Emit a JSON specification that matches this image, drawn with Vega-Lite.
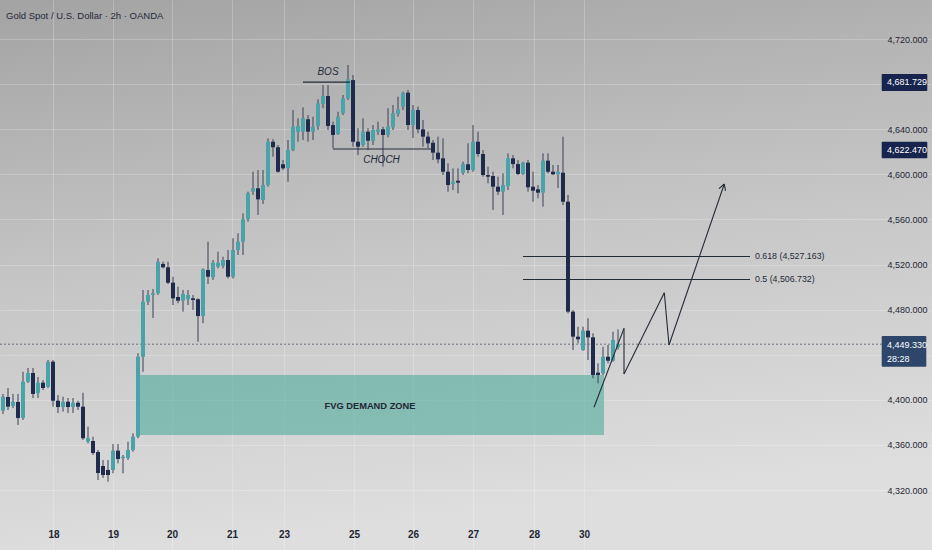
{
  "$schema": "https://vega.github.io/schema/vega-lite/v6.json",
  "width": 932,
  "height": 550,
  "autosize": {"type": "none"},
  "padding": 0,
  "background": "#c4c4c4",
  "config": {
    "view": {"stroke": null, "fill": {"gradient": "linear", "x1": 0, "y1": 0, "x2": 0.2, "y2": 1, "stops": [{"offset": 0, "color": "#a3a3a3"}, {"offset": 0.5, "color": "#c5c5c5"}, {"offset": 1, "color": "#dedede"}]}},
    "font": "Liberation Sans, Arial, sans-serif"
  },
  "datasets": {
    "candles": [
      {"i":0,"o":4390.4,"h":4405.2,"l":4387.4,"c":4402.8},
      {"i":1,"o":4402.5,"h":4410.5,"l":4391.0,"c":4393.9},
      {"i":2,"o":4394.5,"h":4405.2,"l":4392.7,"c":4398.3},
      {"i":3,"o":4398.1,"h":4405.2,"l":4377.7,"c":4383.9},
      {"i":4,"o":4383.9,"h":4424.9,"l":4382.1,"c":4416.1},
      {"i":5,"o":4416.1,"h":4428.2,"l":4414.9,"c":4423.8},
      {"i":6,"o":4423.8,"h":4428.2,"l":4401.6,"c":4405.2},
      {"i":7,"o":4406.0,"h":4420.2,"l":4401.6,"c":4415.2},
      {"i":8,"o":4415.2,"h":4417.6,"l":4408.7,"c":4410.5},
      {"i":9,"o":4411.6,"h":4435.3,"l":4410.5,"c":4433.8},
      {"i":10,"o":4433.8,"h":4435.3,"l":4393.9,"c":4399.2},
      {"i":11,"o":4399.2,"h":4404.3,"l":4388.3,"c":4393.6},
      {"i":12,"o":4393.6,"h":4402.8,"l":4389.5,"c":4398.3},
      {"i":13,"o":4398.3,"h":4401.6,"l":4388.3,"c":4393.6},
      {"i":14,"o":4393.6,"h":4401.6,"l":4388.3,"c":4397.4},
      {"i":15,"o":4397.4,"h":4399.2,"l":4391.0,"c":4393.9},
      {"i":16,"o":4393.9,"h":4406.3,"l":4364.4,"c":4365.9},
      {"i":17,"o":4362.9,"h":4376.2,"l":4361.4,"c":4366.1},
      {"i":18,"o":4363.5,"h":4367.3,"l":4351.1,"c":4352.8},
      {"i":19,"o":4353.7,"h":4355.5,"l":4328.9,"c":4335.1},
      {"i":20,"o":4341.3,"h":4346.6,"l":4330.7,"c":4333.3},
      {"i":21,"o":4337.8,"h":4346.6,"l":4327.4,"c":4333.3},
      {"i":22,"o":4337.8,"h":4360.8,"l":4334.8,"c":4354.9},
      {"i":23,"o":4354.9,"h":4360.8,"l":4343.7,"c":4347.5},
      {"i":24,"o":4348.1,"h":4351.1,"l":4334.8,"c":4349.6},
      {"i":25,"o":4348.4,"h":4362.9,"l":4346.6,"c":4355.5},
      {"i":26,"o":4355.5,"h":4370.3,"l":4354.0,"c":4367.3},
      {"i":27,"o":4367.3,"h":4441.3,"l":4365.9,"c":4438.2},
      {"i":28,"o":4438.2,"h":4497.4,"l":4424.9,"c":4487.0},
      {"i":29,"o":4487.0,"h":4497.4,"l":4484.1,"c":4493.0},
      {"i":30,"o":4493.0,"h":4498.3,"l":4472.6,"c":4494.5},
      {"i":31,"o":4494.5,"h":4525.5,"l":4493.0,"c":4522.5},
      {"i":32,"o":4520.5,"h":4522.5,"l":4516.6,"c":4517.5},
      {"i":33,"o":4517.5,"h":4522.5,"l":4502.7,"c":4503.9},
      {"i":34,"o":4503.9,"h":4509.2,"l":4484.1,"c":4490.0},
      {"i":35,"o":4491.2,"h":4500.3,"l":4485.6,"c":4487.9},
      {"i":36,"o":4487.9,"h":4497.4,"l":4478.2,"c":4493.9},
      {"i":37,"o":4489.2,"h":4497.4,"l":4484.1,"c":4493.0},
      {"i":38,"o":4490.0,"h":4493.0,"l":4479.7,"c":4488.5},
      {"i":39,"o":4489.2,"h":4490.0,"l":4451.5,"c":4474.3},
      {"i":40,"o":4474.3,"h":4516.6,"l":4467.9,"c":4515.8},
      {"i":41,"o":4515.1,"h":4540.2,"l":4502.7,"c":4509.2},
      {"i":42,"o":4508.7,"h":4524.0,"l":4506.3,"c":4521.6},
      {"i":43,"o":4518.1,"h":4531.4,"l":4516.6,"c":4521.6},
      {"i":44,"o":4518.7,"h":4526.9,"l":4516.6,"c":4524.0},
      {"i":45,"o":4524.0,"h":4532.9,"l":4507.5,"c":4509.2},
      {"i":46,"o":4509.2,"h":4543.3,"l":4507.5,"c":4532.9},
      {"i":47,"o":4532.9,"h":4547.7,"l":4528.4,"c":4540.2},
      {"i":48,"o":4540.2,"h":4565.4,"l":4528.4,"c":4560.1},
      {"i":49,"o":4560.1,"h":4584.6,"l":4558.0,"c":4583.2},
      {"i":50,"o":4584.6,"h":4602.3,"l":4581.7,"c":4587.6},
      {"i":51,"o":4587.6,"h":4603.8,"l":4563.9,"c":4577.8},
      {"i":52,"o":4577.2,"h":4603.8,"l":4573.7,"c":4590.5},
      {"i":53,"o":4590.5,"h":4631.9,"l":4589.0,"c":4628.9},
      {"i":54,"o":4628.9,"h":4631.1,"l":4615.6,"c":4624.0},
      {"i":55,"o":4624.0,"h":4626.0,"l":4601.4,"c":4602.3},
      {"i":56,"o":4608.9,"h":4612.7,"l":4603.8,"c":4605.3},
      {"i":57,"o":4605.3,"h":4630.4,"l":4593.4,"c":4621.6},
      {"i":58,"o":4621.6,"h":4657.0,"l":4620.5,"c":4642.2},
      {"i":59,"o":4637.8,"h":4649.7,"l":4628.9,"c":4642.9},
      {"i":60,"o":4637.8,"h":4659.4,"l":4630.4,"c":4649.7},
      {"i":61,"o":4648.8,"h":4652.6,"l":4628.9,"c":4637.8},
      {"i":62,"o":4637.8,"h":4651.1,"l":4630.4,"c":4642.2},
      {"i":63,"o":4642.9,"h":4666.5,"l":4639.3,"c":4663.0},
      {"i":64,"o":4662.4,"h":4679.2,"l":4658.6,"c":4669.5},
      {"i":65,"o":4669.5,"h":4679.2,"l":4639.3,"c":4642.9},
      {"i":66,"o":4643.7,"h":4646.7,"l":4623.1,"c":4634.9},
      {"i":67,"o":4635.8,"h":4655.5,"l":4634.9,"c":4651.1},
      {"i":68,"o":4654.1,"h":4670.3,"l":4652.6,"c":4667.4},
      {"i":69,"o":4667.4,"h":4697.0,"l":4665.9,"c":4684.3},
      {"i":70,"o":4683.6,"h":4688.1,"l":4624.5,"c":4628.9},
      {"i":71,"o":4628.9,"h":4640.8,"l":4617.1,"c":4624.5},
      {"i":72,"o":4626.0,"h":4649.7,"l":4624.5,"c":4637.8},
      {"i":73,"o":4637.8,"h":4640.8,"l":4621.6,"c":4629.8},
      {"i":74,"o":4629.8,"h":4643.7,"l":4626.0,"c":4639.3},
      {"i":75,"o":4637.8,"h":4646.7,"l":4634.9,"c":4639.9},
      {"i":76,"o":4639.9,"h":4642.2,"l":4606.8,"c":4634.9},
      {"i":77,"o":4634.9,"h":4658.6,"l":4632.8,"c":4642.2},
      {"i":78,"o":4641.7,"h":4661.5,"l":4639.3,"c":4654.1},
      {"i":79,"o":4653.5,"h":4668.8,"l":4651.1,"c":4657.7},
      {"i":80,"o":4660.0,"h":4673.3,"l":4657.0,"c":4672.4},
      {"i":81,"o":4672.4,"h":4674.8,"l":4639.3,"c":4643.7},
      {"i":82,"o":4643.7,"h":4661.5,"l":4632.2,"c":4657.0},
      {"i":83,"o":4657.0,"h":4660.0,"l":4636.4,"c":4639.9},
      {"i":84,"o":4639.9,"h":4648.2,"l":4624.5,"c":4633.4},
      {"i":85,"o":4633.4,"h":4637.8,"l":4623.1,"c":4627.5},
      {"i":86,"o":4628.0,"h":4630.4,"l":4612.7,"c":4619.2},
      {"i":87,"o":4619.2,"h":4633.4,"l":4609.8,"c":4613.3},
      {"i":88,"o":4614.2,"h":4631.9,"l":4599.4,"c":4602.3},
      {"i":89,"o":4602.3,"h":4609.8,"l":4584.6,"c":4590.5},
      {"i":90,"o":4591.4,"h":4605.3,"l":4586.1,"c":4593.4},
      {"i":91,"o":4594.3,"h":4605.3,"l":4583.2,"c":4592.6},
      {"i":92,"o":4601.4,"h":4611.2,"l":4599.4,"c":4609.1},
      {"i":93,"o":4608.9,"h":4627.5,"l":4600.9,"c":4603.8},
      {"i":94,"o":4603.8,"h":4643.7,"l":4602.3,"c":4628.9},
      {"i":95,"o":4628.9,"h":4637.8,"l":4615.6,"c":4618.0},
      {"i":96,"o":4618.0,"h":4621.6,"l":4597.9,"c":4599.4},
      {"i":97,"o":4599.4,"h":4606.8,"l":4592.0,"c":4597.9},
      {"i":98,"o":4598.5,"h":4602.3,"l":4568.4,"c":4589.0},
      {"i":99,"o":4589.0,"h":4597.9,"l":4581.7,"c":4584.6},
      {"i":100,"o":4584.6,"h":4600.9,"l":4563.9,"c":4590.5},
      {"i":101,"o":4589.6,"h":4618.6,"l":4586.1,"c":4614.2},
      {"i":102,"o":4614.2,"h":4617.1,"l":4605.3,"c":4609.1},
      {"i":103,"o":4609.1,"h":4612.7,"l":4599.4,"c":4600.3},
      {"i":104,"o":4600.3,"h":4611.2,"l":4599.4,"c":4610.3},
      {"i":105,"o":4610.3,"h":4612.7,"l":4584.6,"c":4588.5},
      {"i":106,"o":4589.0,"h":4602.3,"l":4575.7,"c":4585.5},
      {"i":107,"o":4586.7,"h":4590.5,"l":4578.7,"c":4583.7},
      {"i":108,"o":4583.7,"h":4618.6,"l":4571.3,"c":4612.1},
      {"i":109,"o":4612.1,"h":4618.6,"l":4600.9,"c":4602.3},
      {"i":110,"o":4602.3,"h":4608.3,"l":4599.4,"c":4600.0},
      {"i":111,"o":4600.0,"h":4608.3,"l":4587.9,"c":4602.3},
      {"i":112,"o":4601.4,"h":4633.4,"l":4572.8,"c":4575.7},
      {"i":113,"o":4575.7,"h":4581.7,"l":4476.7,"c":4478.2},
      {"i":114,"o":4478.2,"h":4479.7,"l":4444.2,"c":4456.0},
      {"i":115,"o":4456.0,"h":4464.8,"l":4450.1,"c":4453.7},
      {"i":116,"o":4444.2,"h":4464.8,"l":4443.5,"c":4461.3},
      {"i":117,"o":4461.3,"h":4472.3,"l":4435.3,"c":4455.4},
      {"i":118,"o":4455.4,"h":4459.0,"l":4419.1,"c":4422.0},
      {"i":119,"o":4424.1,"h":4432.4,"l":4414.6,"c":4422.0},
      {"i":120,"o":4423.5,"h":4447.1,"l":4422.0,"c":4438.2},
      {"i":121,"o":4438.2,"h":4448.6,"l":4432.4,"c":4434.7},
      {"i":122,"o":4434.7,"h":4460.4,"l":4433.8,"c":4453.1},
      {"i":123,"o":4446.5,"h":4462.5,"l":4444.5,"c":4449.33}
    ],
    "zone": [{"x1": 27, "x2": 120.2, "y1": 4368.8, "y2": 4422.0}],
    "segments": [
      {"x1": 60, "y1": 4681.729, "x2": 69.4, "y2": 4681.729},
      {"x1": 66, "y1": 4622.47, "x2": 85.8, "y2": 4622.47},
      {"x1": 104, "y1": 4527.163, "x2": 149.4, "y2": 4527.163},
      {"x1": 104, "y1": 4506.732, "x2": 149.4, "y2": 4506.732},
      {"x1": 118.2, "y1": 4393.4, "x2": 124.2, "y2": 4463.4},
      {"x1": 124.2, "y1": 4463.4, "x2": 124.2, "y2": 4422.9},
      {"x1": 124.2, "y1": 4422.9, "x2": 132.26, "y2": 4495.0},
      {"x1": 132.26, "y1": 4495.0, "x2": 133.2, "y2": 4448.6},
      {"x1": 133.2, "y1": 4448.6, "x2": 144.26, "y2": 4591.4},
      {"x1": 144.26, "y1": 4591.4, "x2": 143.2, "y2": 4587.3},
      {"x1": 144.26, "y1": 4591.4, "x2": 144.5, "y2": 4585.3}
    ],
    "notes": [
      {"x": 65, "y": 4690.7, "t": "BOS"},
      {"x": 75.7, "y": 4612.7, "t": "CHOCH"}
    ],
    "fibtext": [
      {"x": 150.4, "y": 4527.163, "t": "0.618 (4,527.163)"},
      {"x": 150.4, "y": 4506.732, "t": "0.5 (4,506.732)"}
    ],
    "zonetext": [{"x": 73.4, "y": 4394.5, "t": "FVG DEMAND ZONE"}],
    "title": [{"x": 0.6, "y": 4740.7, "t": "Gold Spot / U.S. Dollar · 2h · OANDA"}],
    "navyboxes": [
      {"x1": 175.74, "x2": 184.86, "y1": 4689.0, "y2": 4673.9},
      {"x1": 175.74, "x2": 184.86, "y1": 4628.9, "y2": 4614.2}
    ],
    "lastbox": [{"x1": 175.74, "x2": 184.66, "y1": 4456.6, "y2": 4429.4}],
    "boxtext": [
      {"x": 176.8, "y": 4681.5, "t": "4,681.729"},
      {"x": 176.8, "y": 4621.6, "t": "4,622.470"},
      {"x": 176.8, "y": 4448.6, "t": "4,449.330"},
      {"x": 176.8, "y": 4436.2, "t": "28:28"}
    ],
    "last": [{"x1": -0.6, "x2": 175.74, "y": 4449.33}]
  },
  "layer": [
    {
      "data": {"name": "zone"},
      "mark": {"type": "rect", "color": "#46aa96", "opacity": 0.56},
      "encoding": {
        "x": {"field": "x1", "type": "quantitative", "scale": {"domain": [-0.6, 185.8], "nice": false, "zero": false, "padding": 0},
          "axis": {"orient": "bottom", "offset": -30, "values": [10.1, 22, 33.8, 45.8, 56.2, 70.2, 82, 94, 106.2, 116.2],
            "labelExpr": "datum.value < 15 ? '18' : datum.value < 28 ? '19' : datum.value < 40 ? '20' : datum.value < 50 ? '21' : datum.value < 63 ? '23' : datum.value < 76 ? '25' : datum.value < 88 ? '26' : datum.value < 100 ? '27' : datum.value < 111 ? '28' : '30'",
            "title": null, "domain": false, "ticks": false, "labelPadding": 9, "labelFontSize": 10, "labelFontWeight": "bold", "labelColor": "#1e2533",
            "grid": true, "gridColor": "#ffffff", "gridOpacity": 0.22, "labelFlush": false, "labelOverlap": false}},
        "x2": {"field": "x2"},
        "y": {"field": "y1", "type": "quantitative", "scale": {"domain": [4266.8, 4754.6], "nice": false, "zero": false, "padding": 0},
          "axis": {"orient": "right", "offset": -70, "values": [4320, 4360, 4400, 4440, 4480, 4520, 4560, 4600, 4640, 4680, 4720], "format": ",.3f",
            "labelExpr": "datum.value == 4440 || datum.value == 4680 ? '' : datum.label",
            "title": null, "domain": false, "ticks": false, "tickSize": 0, "labelAlign": "left", "labelPadding": 25, "labelFontSize": 9, "labelColor": "#1e2533",
            "grid": true, "gridColor": "#ffffff", "gridOpacity": 0.22, "labelFlush": false, "labelOverlap": false}},
        "y2": {"field": "y2"}
      }
    },
    {
      "data": {"name": "last"},
      "mark": {"type": "rule", "color": "#6c7482", "strokeWidth": 1, "strokeDash": [2, 2]},
      "encoding": {
        "x": {"field": "x1", "type": "quantitative", "scale": {"domain": [-0.6, 185.8], "nice": false, "zero": false, "padding": 0}},
        "x2": {"field": "x2"},
        "y": {"field": "y", "type": "quantitative", "scale": {"domain": [4266.8, 4754.6], "nice": false, "zero": false, "padding": 0}}
      }
    },
    {
      "data": {"name": "candles"},
      "mark": {"type": "rule", "color": "#3a4154", "strokeWidth": 1},
      "encoding": {
        "x": {"field": "i", "type": "quantitative", "scale": {"domain": [-0.6, 185.8], "nice": false, "zero": false, "padding": 0}},
        "y": {"field": "l", "type": "quantitative", "scale": {"domain": [4266.8, 4754.6], "nice": false, "zero": false, "padding": 0}},
        "y2": {"field": "h"}
      }
    },
    {
      "data": {"name": "candles"},
      "mark": {"type": "bar", "width": 4, "orient": "vertical"},
      "encoding": {
        "x": {"field": "i", "type": "quantitative", "scale": {"domain": [-0.6, 185.8], "nice": false, "zero": false, "padding": 0}},
        "y": {"field": "o", "type": "quantitative", "scale": {"domain": [4266.8, 4754.6], "nice": false, "zero": false, "padding": 0}},
        "y2": {"field": "c"},
        "color": {"condition": {"test": "datum.c >= datum.o", "value": "#4aa3a8"}, "value": "#1f2a4c"}
      }
    },
    {
      "data": {"name": "segments"},
      "mark": {"type": "rule", "color": "#232a38", "strokeWidth": 1.1},
      "encoding": {
        "x": {"field": "x1", "type": "quantitative", "scale": {"domain": [-0.6, 185.8], "nice": false, "zero": false, "padding": 0}},
        "x2": {"field": "x2"},
        "y": {"field": "y1", "type": "quantitative", "scale": {"domain": [4266.8, 4754.6], "nice": false, "zero": false, "padding": 0}},
        "y2": {"field": "y2"}
      }
    },
    {
      "data": {"name": "notes"},
      "mark": {"type": "text", "fontSize": 10, "fontStyle": "italic", "color": "#232a38", "align": "center", "baseline": "middle"},
      "encoding": {
        "x": {"field": "x", "type": "quantitative", "scale": {"domain": [-0.6, 185.8], "nice": false, "zero": false, "padding": 0}},
        "y": {"field": "y", "type": "quantitative", "scale": {"domain": [4266.8, 4754.6], "nice": false, "zero": false, "padding": 0}},
        "text": {"field": "t"}
      }
    },
    {
      "data": {"name": "fibtext"},
      "mark": {"type": "text", "fontSize": 8.8, "color": "#232a38", "align": "left", "baseline": "middle"},
      "encoding": {
        "x": {"field": "x", "type": "quantitative", "scale": {"domain": [-0.6, 185.8], "nice": false, "zero": false, "padding": 0}},
        "y": {"field": "y", "type": "quantitative", "scale": {"domain": [4266.8, 4754.6], "nice": false, "zero": false, "padding": 0}},
        "text": {"field": "t"}
      }
    },
    {
      "data": {"name": "zonetext"},
      "mark": {"type": "text", "fontSize": 9.3, "fontWeight": "bold", "color": "#1f2838", "align": "center", "baseline": "middle"},
      "encoding": {
        "x": {"field": "x", "type": "quantitative", "scale": {"domain": [-0.6, 185.8], "nice": false, "zero": false, "padding": 0}},
        "y": {"field": "y", "type": "quantitative", "scale": {"domain": [4266.8, 4754.6], "nice": false, "zero": false, "padding": 0}},
        "text": {"field": "t"}
      }
    },
    {
      "data": {"name": "title"},
      "mark": {"type": "text", "fontSize": 9.5, "color": "#1f2838", "align": "left", "baseline": "middle"},
      "encoding": {
        "x": {"field": "x", "type": "quantitative", "scale": {"domain": [-0.6, 185.8], "nice": false, "zero": false, "padding": 0}},
        "y": {"field": "y", "type": "quantitative", "scale": {"domain": [4266.8, 4754.6], "nice": false, "zero": false, "padding": 0}},
        "text": {"field": "t"}
      }
    },
    {
      "data": {"name": "navyboxes"},
      "mark": {"type": "rect", "color": "#17244d", "cornerRadius": 1},
      "encoding": {
        "x": {"field": "x1", "type": "quantitative", "scale": {"domain": [-0.6, 185.8], "nice": false, "zero": false, "padding": 0}},
        "x2": {"field": "x2"},
        "y": {"field": "y1", "type": "quantitative", "scale": {"domain": [4266.8, 4754.6], "nice": false, "zero": false, "padding": 0}},
        "y2": {"field": "y2"}
      }
    },
    {
      "data": {"name": "lastbox"},
      "mark": {"type": "rect", "color": "#2d4669", "cornerRadius": 1},
      "encoding": {
        "x": {"field": "x1", "type": "quantitative", "scale": {"domain": [-0.6, 185.8], "nice": false, "zero": false, "padding": 0}},
        "x2": {"field": "x2"},
        "y": {"field": "y1", "type": "quantitative", "scale": {"domain": [4266.8, 4754.6], "nice": false, "zero": false, "padding": 0}},
        "y2": {"field": "y2"}
      }
    },
    {
      "data": {"name": "boxtext"},
      "mark": {"type": "text", "fontSize": 9, "color": "#ffffff", "align": "left", "baseline": "middle"},
      "encoding": {
        "x": {"field": "x", "type": "quantitative", "scale": {"domain": [-0.6, 185.8], "nice": false, "zero": false, "padding": 0}},
        "y": {"field": "y", "type": "quantitative", "scale": {"domain": [4266.8, 4754.6], "nice": false, "zero": false, "padding": 0}},
        "text": {"field": "t"}
      }
    }
  ]
}
